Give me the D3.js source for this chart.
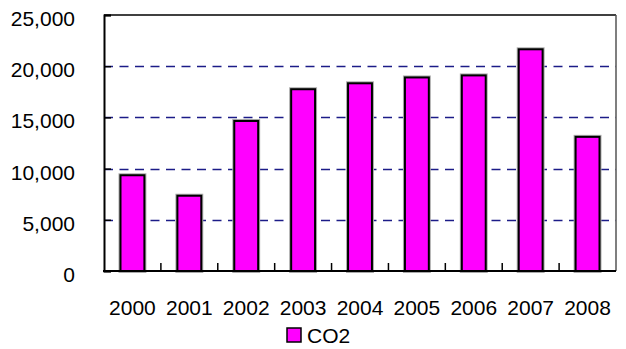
<!DOCTYPE html>
<html>
<head>
<meta charset="utf-8">
<script src="https://cdn.jsdelivr.net/npm/d3@7"></script>
<style>
  html, body { margin: 0; padding: 0; background: #fff; }
  text { font-family: "Liberation Sans", Arial, sans-serif; fill: #000; }
</style>
</head>
<body>
<div id="chart"></div>
<script>
const years = ['2000', '2001', '2002', '2003', '2004', '2005', '2006', '2007', '2008'];
const co2 = [9350, 7350, 14650, 17750, 18330, 18900, 19100, 21650, 13100];
const yTicks = [0, 5000, 10000, 15000, 20000, 25000];
const seriesName = 'CO2';

const width = 626, height = 349;
const margin = { top: 15, right: 10, bottom: 78, left: 104 };
const plotW = width - margin.left - margin.right;
const plotH = height - margin.top - margin.bottom;

const svg = d3.select('#chart')
  .append('svg')
  .attr('width', width)
  .attr('height', height);

svg.append('rect')
  .attr('width', width)
  .attr('height', height)
  .attr('fill', '#fff');

const g = svg.append('g')
  .attr('transform', `translate(${margin.left},${margin.top})`);

const x = d3.scaleBand()
  .domain(years)
  .range([0, plotW])
  .paddingInner(0.58)
  .paddingOuter(0.29);

const y = d3.scaleLinear()
  .domain([0, 25000])
  .range([plotH, 0]);

// dashed grid lines
g.selectAll('.grid')
  .data(yTicks.filter(d => d > 0 && d < 25000))
  .enter()
  .append('line')
  .attr('x1', 0)
  .attr('x2', plotW)
  .attr('y1', d => Math.round(y(d)) + 0.5)
  .attr('y2', d => Math.round(y(d)) + 0.5)
  .attr('stroke', '#1c1c88')
  .attr('stroke-width', 1.3)
  .attr('stroke-dasharray', '9,6.5');

// top and right frame
g.append('line')
  .attr('x1', 0).attr('x2', plotW)
  .attr('y1', 0).attr('y2', 0)
  .attr('stroke', '#000').attr('stroke-width', 1.5);
g.append('line')
  .attr('x1', plotW).attr('x2', plotW)
  .attr('y1', 0).attr('y2', plotH)
  .attr('stroke', '#555').attr('stroke-width', 1.5);

// bars: soft grey halo then black outline
g.selectAll('.halo')
  .data(co2)
  .enter()
  .append('rect')
  .attr('x', (d, i) => x(years[i]))
  .attr('y', d => y(d))
  .attr('width', x.bandwidth())
  .attr('height', d => plotH - y(d))
  .attr('fill', 'none')
  .attr('stroke', '#aaa')
  .attr('stroke-width', 4);

g.selectAll('.bar')
  .data(co2)
  .enter()
  .append('rect')
  .attr('x', (d, i) => x(years[i]))
  .attr('y', d => y(d))
  .attr('width', x.bandwidth())
  .attr('height', d => plotH - y(d))
  .attr('fill', '#ff00ff')
  .attr('stroke', '#000')
  .attr('stroke-width', 2);

// y axis
const yAxis = g.append('g')
  .call(d3.axisLeft(y).tickValues(yTicks).tickSize(-7).tickPadding(29).tickFormat(d3.format(',')));
yAxis.select('.domain').attr('stroke', '#000').attr('stroke-width', 2);
yAxis.selectAll('.tick line').attr('stroke', '#000').attr('stroke-width', 1.5);
yAxis.selectAll('.tick text')
  .attr('font-size', 21)
  .attr('dy', '0.5em')
  .style('font-family', '"Liberation Sans", Arial, sans-serif');

// x axis with boundary ticks pointing up
const xAxis = g.append('g')
  .attr('transform', `translate(0,${plotH})`);
xAxis.append('line')
  .attr('x1', -1).attr('x2', plotW)
  .attr('stroke', '#000').attr('stroke-width', 2);
xAxis.selectAll('.xtick')
  .data(years.slice(1))
  .enter()
  .append('line')
  .attr('x1', d => x(d) - x.step() * x.paddingInner() / 2)
  .attr('x2', d => x(d) - x.step() * x.paddingInner() / 2)
  .attr('y1', 0).attr('y2', -8)
  .attr('stroke', '#000').attr('stroke-width', 1.5);
xAxis.selectAll('.xlabel')
  .data(years)
  .enter()
  .append('text')
  .attr('x', d => x(d) + x.bandwidth() / 2)
  .attr('y', 44)
  .attr('text-anchor', 'middle')
  .attr('font-size', 21)
  .text(d => d);

// legend
const legend = svg.append('g')
  .attr('transform', 'translate(287,328)');
legend.append('rect')
  .attr('width', 14).attr('height', 14)
  .attr('fill', '#ff00ff')
  .attr('stroke', '#000').attr('stroke-width', 1.5);
legend.append('text')
  .attr('x', 20).attr('y', 15)
  .attr('font-size', 21)
  .text(seriesName);
</script>
</body>
</html>
